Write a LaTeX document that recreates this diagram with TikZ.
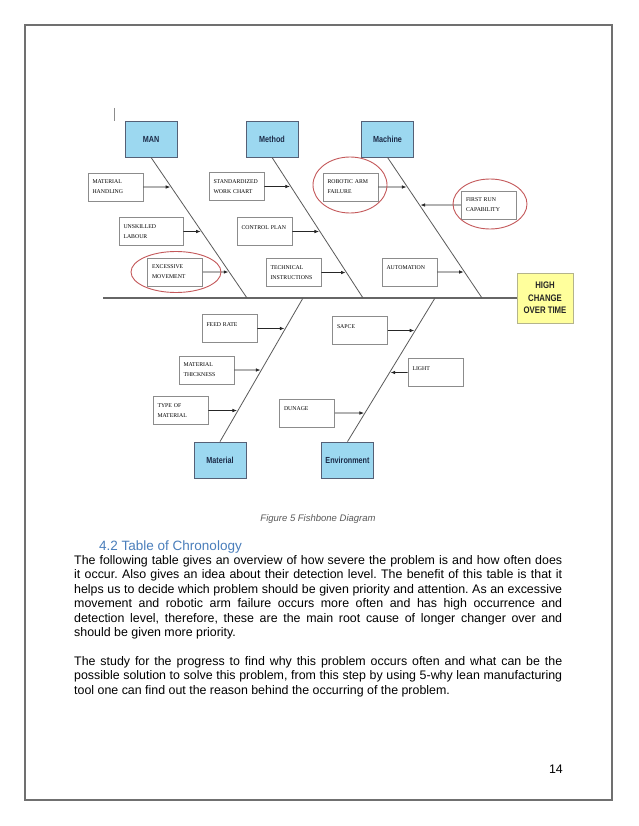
\documentclass[tikz,border=0pt]{standalone}
\usepackage{fontspec}
\setmainfont{Liberation Sans}
\newfontfamily\causeserif{Liberation Serif}
\newfontfamily\narrowsans[FakeStretch=0.82]{Liberation Sans}
\usetikzlibrary{arrows.meta, positioning, shapes.geometric}
\hyphenpenalty=10000
\frenchspacing
\definecolor{headBlue}{HTML}{9CD8F0}
\definecolor{headInk}{HTML}{1C2B48}
\definecolor{effectYellow}{HTML}{FFFF9C}
\definecolor{effectLine}{HTML}{B4B48C}
\definecolor{boneGrey}{HTML}{5A5A5A}
\definecolor{boxGrey}{HTML}{8C8C8C}
\definecolor{ringRed}{HTML}{C4585A}
\definecolor{headingBlue}{HTML}{4A7EBB}
\definecolor{pageGrey}{HTML}{707070}
\definecolor{captionGrey}{HTML}{595959}
\tikzset{
  head/.style={draw=headInk!75, line width=0.8pt, fill=headBlue, minimum width=52pt,
               minimum height=36pt, inner sep=0pt, text=headInk,
               font=\narrowsans\bfseries\fontsize{8.8}{10}\selectfont},
  effect/.style={draw=effectLine, line width=0.8pt, fill=effectYellow, minimum width=56pt,
                 minimum height=50pt, inner sep=0pt, align=center, text=black!85,
                 font=\narrowsans\bfseries\fontsize{9.5}{12.5}\selectfont},
  cause/.style={draw=boxGrey, line width=0.7pt, fill=white, text width=46pt, inner xsep=4.5pt,
                inner ysep=0pt, minimum height=28pt, align=left,
                font=\causeserif\fontsize{5.8}{10}\selectfont},
  single/.style={text depth=8pt},
  bone/.style={draw=boneGrey, line width=0.8pt},
  spine/.style={draw=black!60, line width=1.3pt},
  arrow/.style={-{Latex[length=4.5pt,width=3.6pt]}, line width=0.7pt, draw=black!85, shorten >=1pt},
  ring/.style={draw=ringRed, line width=0.9pt, ellipse, inner sep=0pt},
  bodytext/.style={text width=488pt, align=justify, inner sep=0pt, font=\fontsize{12.4}{14.5}\selectfont},
}
\begin{document}
\begin{tikzpicture}[x=1pt, y=-1pt]
\useasboundingbox (0,0) rectangle (638,826);
\fill[white] (0,0) rectangle (638,826);
\draw[pageGrey, line width=1.1pt] (25,25) rectangle (612,800);
\draw[black!45, line width=0.6pt] (114,108) -- (114,121);

% heads and effect
\node[head] (man) at (151,139) {MAN};
\node[head] (method) at (272,139) {Method};
\node[head] (machine) at (387.5,139) {Machine};
\node[head] (material) at (220,460) {Material};
\node[head] (environment) at (347.5,460) {Environment};
\node[effect] (effect) at (545,298) {HIGH\\CHANGE\\OVER TIME};

\coordinate (spineStart) at (103,298);
\coordinate (manTail) at (247,298);
\coordinate (methodTail) at (363,298);
\coordinate (machineTail) at (482,298);
\coordinate (materialTail) at (303,298);
\coordinate (environmentTail) at (435,298);

\draw[spine] (spineStart) -- (effect.west);
\draw[bone] (man.south) -- (manTail);
\draw[bone] (method.south) -- (methodTail);
\draw[bone] (machine.south) -- (machineTail);
\draw[bone] (material.north) -- (materialTail);
\draw[bone] (environment.north) -- (environmentTail);

% causes
\node[cause] (handling) at (115.5,187) {MATERIAL\\HANDLING};
\node[cause, text width=55pt] (unskilled) at (151,231.5) {UNSKILLED\\LABOUR};
\node[cause] (movement) at (175,272) {EXCESSIVE\\MOVEMENT};
\node[cause] (workchart) at (236.5,186.5) {STANDARDIZED\\WORK CHART};
\node[cause, single] (controlplan) at (264.5,231.5) {CONTROL PLAN};
\node[cause] (instructions) at (293.5,272.5) {TECHNICAL\\INSTRUCTIONS};
\node[cause] (armfailure) at (350.5,187) {ROBOTIC ARM\\FAILURE};
\node[cause] (firstrun) at (489,205) {FIRST RUN\\CAPABILITY};
\node[cause, single] (automation) at (409.5,272) {AUTOMATION};
\node[cause, single] (feedrate) at (229.5,328.5) {FEED RATE};
\node[cause] (thickness) at (206.5,370) {MATERIAL\\THICKNESS};
\node[cause] (typeof) at (180.5,410.5) {TYPE OF\\MATERIAL};
\node[cause, single] (dunage) at (307,413) {DUNAGE};
\node[cause, single] (sapce) at (360,330.5) {SAPCE};
\node[cause, single] (light) at (435.5,372.5) {LIGHT};

\draw[arrow] (handling.east) -- (intersection of handling.west--handling.east and man.south--manTail);
\draw[arrow] (unskilled.east) -- (intersection of unskilled.west--unskilled.east and man.south--manTail);
\draw[arrow] (movement.east) -- (intersection of movement.west--movement.east and man.south--manTail);
\draw[arrow] (workchart.east) -- (intersection of workchart.west--workchart.east and method.south--methodTail);
\draw[arrow] (controlplan.east) -- (intersection of controlplan.west--controlplan.east and method.south--methodTail);
\draw[arrow] (instructions.east) -- (intersection of instructions.west--instructions.east and method.south--methodTail);
\draw[arrow] (armfailure.east) -- (intersection of armfailure.west--armfailure.east and machine.south--machineTail);
\draw[arrow] (firstrun.west) -- (intersection of firstrun.west--firstrun.east and machine.south--machineTail);
\draw[arrow] (automation.east) -- (intersection of automation.west--automation.east and machine.south--machineTail);
\draw[arrow] (feedrate.east) -- (intersection of feedrate.west--feedrate.east and material.north--materialTail);
\draw[arrow] (thickness.east) -- (intersection of thickness.west--thickness.east and material.north--materialTail);
\draw[arrow] (typeof.east) -- (intersection of typeof.west--typeof.east and material.north--materialTail);
\draw[arrow] (dunage.east) -- (intersection of dunage.west--dunage.east and environment.north--environmentTail);
\draw[arrow] (sapce.east) -- (intersection of sapce.west--sapce.east and environment.north--environmentTail);
\draw[arrow] (light.west) -- (intersection of light.west--light.east and environment.north--environmentTail);

% highlighted causes
\node[ring, minimum width=90pt, minimum height=41pt] (movementRing) at (176,272) {};
\node[ring, minimum width=74pt, minimum height=56pt] (armRing) at (350,185) {};
\node[ring, minimum width=74pt, minimum height=50pt] (firstrunRing) at (490,204) {};

% page text
\node[text=captionGrey, font=\itshape\fontsize{9.5}{11}\selectfont] (caption) at (318,519) {Figure 5 Fishbone Diagram};
\node[anchor=base west, text=headingBlue, font=\fontsize{13.5}{16}\selectfont, inner sep=0pt] (heading) at (99,550) {4.2 Table of Chronology};
\node[bodytext, anchor=north west] (para1) at (74,555) {The following table gives an overview of how severe the problem is and how often does\linebreak it occur. Also gives an idea about their detection level. The benefit of this table is that it\linebreak helps us to decide which problem should be given priority and attention. As an excessive\linebreak movement and robotic arm failure occurs more often and has high occurrence and\linebreak detection level, therefore, these are the main root cause of longer changer over and\linebreak should be given more priority.};
\node[bodytext, anchor=north west] (para2) at (74,656) {The study for the progress to find why this problem occurs often and what can be the\linebreak possible solution to solve this problem, from this step by using 5-why lean manufacturing\linebreak tool one can find out the reason behind the occurring of the problem.};
\node[anchor=base east, font=\fontsize{12.4}{14}\selectfont, inner sep=0pt] (pagenum) at (563,773) {14};
\end{tikzpicture}
\end{document}
